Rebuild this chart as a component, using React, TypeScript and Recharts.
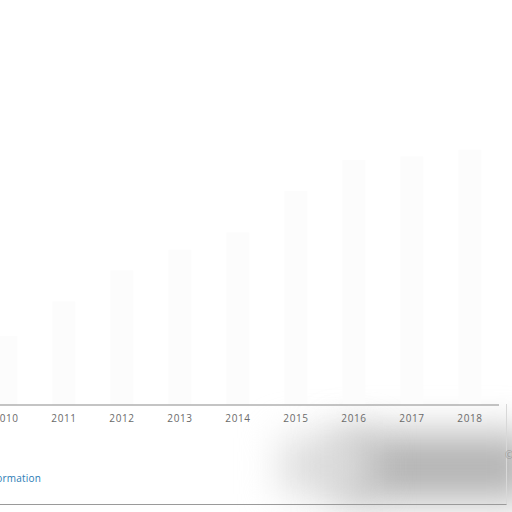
import React from 'react'
import { BarChart, Bar, XAxis, YAxis } from 'recharts'

// years along the axis and the faint (washed out) bar heights behind them
const years = ['2010', '2011', '2012', '2013', '2014', '2015', '2016', '2017', '2018']
const values = [20, 30, 39, 45, 50, 62, 71, 72, 74]

const data = years.map((year, i) => ({ year, value: values[i] }))

export default function App() {
  return (
    <div
      style={{
        position: 'absolute',
        left: 0,
        top: 0,
        width: 512,
        height: 512,
        overflow: 'hidden',
        background: '#fff',
        fontFamily: '"Open Sans", sans-serif',
      }}
    >
      {/* smudged grey shadow across the lower right */}
      <div
        style={{
          position: 'absolute',
          left: 335,
          top: 434,
          width: 200,
          height: 66,
          background: '#b2b2b2',
          filter: 'blur(20px)',
        }}
      />
      <div
        style={{
          position: 'absolute',
          left: 282,
          top: 438,
          width: 90,
          height: 56,
          background: '#dadada',
          filter: 'blur(20px)',
        }}
      />
      {/* footer box */}
      <div
        style={{
          position: 'absolute',
          left: -2,
          top: 404,
          width: 508,
          height: 100,
          borderBottom: '1px solid #9a9a9a',
          borderRight: '1px solid #d8d8d8',
        }}
      />
      <div style={{ position: 'absolute', left: -23, top: 0 }}>
        <BarChart width={535} height={430} data={data} margin={{ top: 60, right: 13, left: 0, bottom: 0 }} barCategoryGap="30%">
          <XAxis
            dataKey="year"
            height={25}
            tickLine={false}
            axisLine={{ stroke: '#8a8a8a', strokeWidth: 1.2 }}
            tick={{ fontSize: 10, fill: '#6a6a6a', letterSpacing: 0.6, dy: 2 }}
            interval={0}
          />
          <YAxis hide domain={[0, 100]} />
          <Bar dataKey="value" fill="#fcfcfc" isAnimationActive={false} />
        </BarChart>
      </div>
      <div
        style={{
          position: 'absolute',
          right: 471,
          top: 471,
          fontSize: 10,
          color: '#2b7bb5',
          whiteSpace: 'nowrap',
          letterSpacing: 0.2,
        }}
      >
        Additional Information
      </div>
      <div style={{ position: 'absolute', left: 505, top: 448, fontSize: 10, color: '#999' }}>©</div>
    </div>
  )
}
